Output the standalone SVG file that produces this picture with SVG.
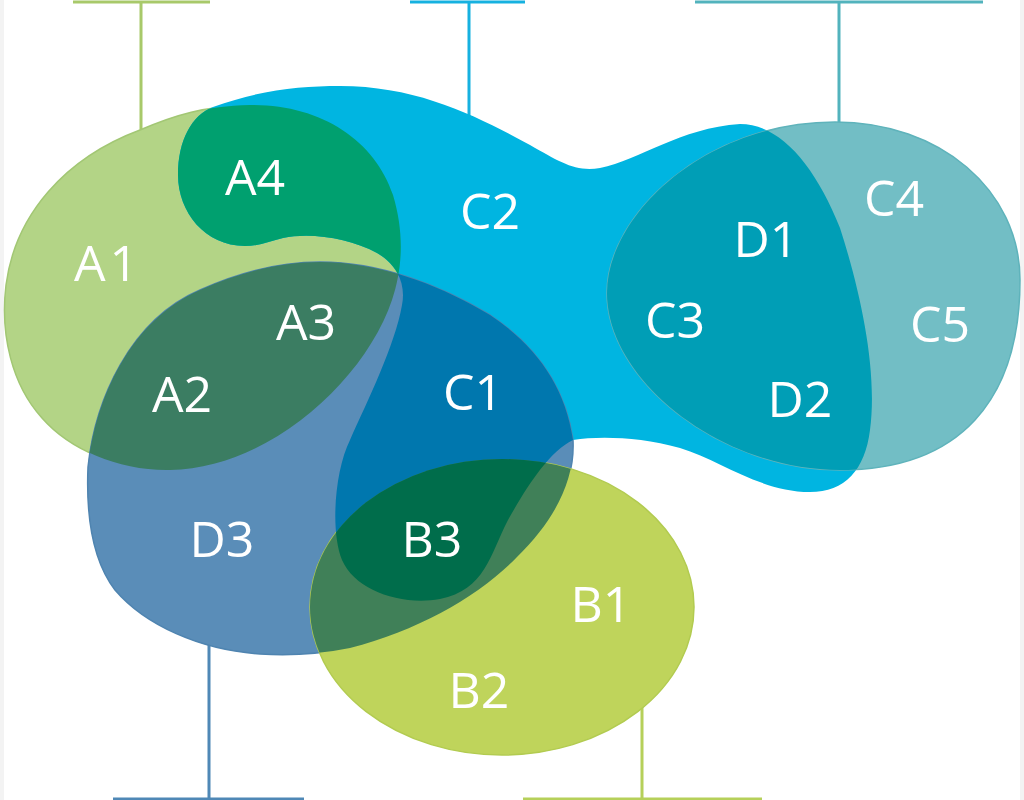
<svg xmlns="http://www.w3.org/2000/svg" xmlns:xlink="http://www.w3.org/1999/xlink" width="1024" height="800" viewBox="0 0 1024 800">
<style>
  .lbl { font-family: "Open Sans", "Noto Sans", sans-serif; font-size: 50px; fill: #ffffff; text-anchor: middle; }
  .bar { fill: none; stroke-width: 3; stroke-linecap: butt; }
</style>
<defs>
  <path id="pA" d="M 140,130 C 175,115 205,106 250,105 C 320,104 375,140 393,195 C 405,235 402,270 392,300 C 365,380 270,468 170,470 C 120,471 70,450 42,418 C 12,385 0,335 6,285 C 15,215 65,158 140,130 Z"/>
  <path id="pC" d="M 213,107 C 260,90 300,86 340,86 C 420,86 480,118 530,145 C 560,162 575,172 600,168 C 640,160 680,128 740,124 C 780,124 815,165 840,228 C 860,290 878,370 870,430 C 865,470 845,492 810,492 C 760,492 720,460 680,448 C 640,437 600,436 573,440 C 548,452 525,490 508,520 C 490,555 485,590 440,599 C 400,606 355,590 342,560 C 330,530 335,470 350,440 C 368,400 395,345 402,305 C 406,285 398,265 377,253 C 350,238 310,232 283,238 C 270,241 260,246 245,246 C 205,246 178,212 178,175 C 178,140 192,115 213,107 Z"/>
  <path id="pD" d="M 88,467 C 95,400 130,320 200,290 C 240,272 280,262 320,262 C 380,262 440,285 490,315 C 535,345 565,385 573,440 C 575,480 555,520 517,557 C 480,595 420,630 350,648 C 320,654 290,656 260,654 C 200,650 145,625 115,590 C 92,560 86,515 88,467 Z"/>
  <ellipse id="pB" cx="502" cy="607" rx="192" ry="148"/>
  <path id="pF" d="M 607,293 C 607,215 705,122 835,122 C 940,122 1020,190 1020,280 C 1020,400 960,470 840,470 C 720,470 607,380 607,293 Z"/>
  <clipPath id="cA"><use xlink:href="#pA"/></clipPath>
  <clipPath id="cC"><use xlink:href="#pC"/></clipPath>
  <clipPath id="cD"><use xlink:href="#pD"/></clipPath>
</defs>

<rect x="0" y="0" width="1024" height="800" fill="#ffffff"/>
<rect x="0" y="0" width="4" height="800" fill="#f3f3f3"/>
<rect x="1020" y="0" width="4" height="800" fill="#f3f3f3"/>

<g id="connectors">
  <path class="bar" stroke="#a8c96a" d="M 73,2 H 210 M 141,2 V 132"/>
  <path class="bar" stroke="#16b1e0" d="M 410,2 H 525 M 469,2 V 120"/>
  <path class="bar" stroke="#52b3bd" d="M 695,2 H 983 M 839,2 V 124"/>
  <path class="bar" stroke="#4f88b6" d="M 113,799 H 304 M 209,640 V 799"/>
  <path class="bar" stroke="#b6d05a" d="M 523,799 H 762 M 642,705 V 799"/>
</g>

<g id="node-A"><use xlink:href="#pA" fill="#b3d486" stroke="#a2c774" stroke-width="1.5"/></g>
<g id="node-C"><use xlink:href="#pC" fill="#00b5e1"/></g>
<g id="node-D"><use xlink:href="#pD" fill="#5a8db8" stroke="#4f84b0" stroke-width="1.5"/></g>
<g id="node-B"><use xlink:href="#pB" fill="#bfd45b" stroke="#b2cb50" stroke-width="1.5"/></g>
<g id="node-F"><use xlink:href="#pF" fill="#72bec5" stroke="#5fb3bb" stroke-width="1.5"/></g>

<g id="node-A4"><use xlink:href="#pC" fill="#00a06f" clip-path="url(#cA)"/></g>
<g id="node-A23"><use xlink:href="#pD" fill="#3b7d62" clip-path="url(#cA)"/></g>
<g id="node-C1"><use xlink:href="#pD" fill="#0077ae" clip-path="url(#cC)"/></g>
<g id="node-BD"><use xlink:href="#pB" fill="#408058" clip-path="url(#cD)"/></g>
<g id="node-B3"><g clip-path="url(#cC)"><use xlink:href="#pB" fill="#006d4b" clip-path="url(#cD)"/></g></g>
<g id="node-D12"><use xlink:href="#pF" fill="#009eb6" clip-path="url(#cC)"/></g>

<g id="labels">
  <text class="lbl" x="255" y="195">A4</text>
  <text class="lbl" x="108" y="281" letter-spacing="4">A1</text>
  <text class="lbl" x="490" y="229">C2</text>
  <text class="lbl" x="306" y="340">A3</text>
  <text class="lbl" x="182" y="412">A2</text>
  <text class="lbl" x="473" y="410">C1</text>
  <text class="lbl" x="222" y="557">D3</text>
  <text class="lbl" x="432" y="557">B3</text>
  <text class="lbl" x="601" y="622">B1</text>
  <text class="lbl" x="479" y="708">B2</text>
  <text class="lbl" x="675" y="338">C3</text>
  <text class="lbl" x="766" y="257">D1</text>
  <text class="lbl" x="894" y="216">C4</text>
  <text class="lbl" x="940" y="342">C5</text>
  <text class="lbl" x="800" y="417">D2</text>
</g>
</svg>
